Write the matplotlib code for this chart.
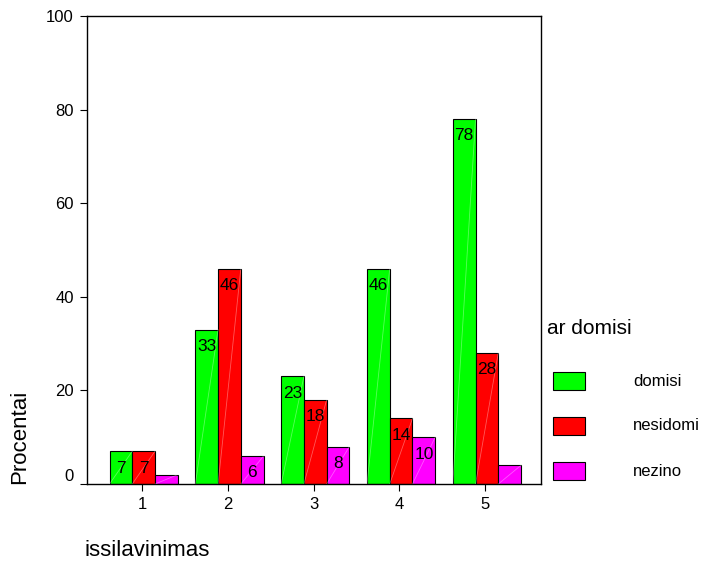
import numpy as np
import matplotlib.pyplot as plt
from matplotlib.patches import Rectangle

categories = [1, 2, 3, 4, 5]
domisi = [7, 33, 23, 46, 78]
nesidomi = [7, 46, 18, 14, 28]
nezino = [2, 6, 8, 10, 4]
series_names = ["domisi", "nesidomi", "nezino"]
series_colors = ["#00ff00", "#ff0000", "#ff00ff"]
show_label = [[True] * 5, [True] * 5, [False, True, True, True, False]]

plt.rcParams['font.family'] = ['Liberation Sans', 'DejaVu Sans']

fig = plt.figure(figsize=(7.04, 5.62), dpi=100)
ax = fig.add_axes([87 / 704, 1 - 484 / 562, 454 / 704, 468 / 562])

x = np.array(categories, dtype=float)
width = 0.265
for k, (vals, color) in enumerate(zip([domisi, nesidomi, nezino], series_colors)):
    xs = x + (k - 1) * width + 0.02
    ax.bar(xs, vals, width=width, color=color, edgecolor='black', linewidth=0.8, zorder=2)
    for xi, v, lab in zip(xs, vals, show_label[k]):
        # faint diagonal shading line inside each bar
        ax.plot([xi - width / 2, xi + width / 2], [0, v], color='white', alpha=0.35,
                linewidth=0.6, zorder=3)
        if lab:
            ax.text(xi, v - 3.6, str(v), ha='center', va='center', fontsize=12.5, zorder=4)

ax.set_xlim(0.36, 5.65)
ax.set_ylim(0, 100)
ax.set_xticks(categories)
ax.set_yticks([0, 20, 40, 60, 80, 100])
ax.tick_params(labelsize=12, direction='out', length=5, pad=4.5)
ax.get_yticklabels()[0].set_va('bottom')
for s in ax.spines.values():
    s.set_linewidth(1.0)

fig.text(20 / 704, 1 - 484 / 562, "Procentai", rotation=90, fontsize=16, ha='center', va='bottom')
fig.text(85 / 704, 1 - 556 / 562, "issilavinimas", fontsize=16, ha='left', va='baseline')

# legend drawn on the right side of the figure
fig.text(547 / 704, 1 - 328 / 562, "ar domisi", fontsize=15, ha='left', va='center')
for i, (name, color) in enumerate(zip(series_names, series_colors)):
    yc = 381 + i * 45
    fig.patches.append(Rectangle((553 / 704, 1 - (yc + 9) / 562), 32 / 704, 18 / 562,
                                 transform=fig.transFigure, facecolor=color,
                                 edgecolor='black', linewidth=0.8))
    fig.text(633 / 704, 1 - yc / 562, name, fontsize=12, ha='left', va='center')

fig.savefig("out.png", dpi=100)
